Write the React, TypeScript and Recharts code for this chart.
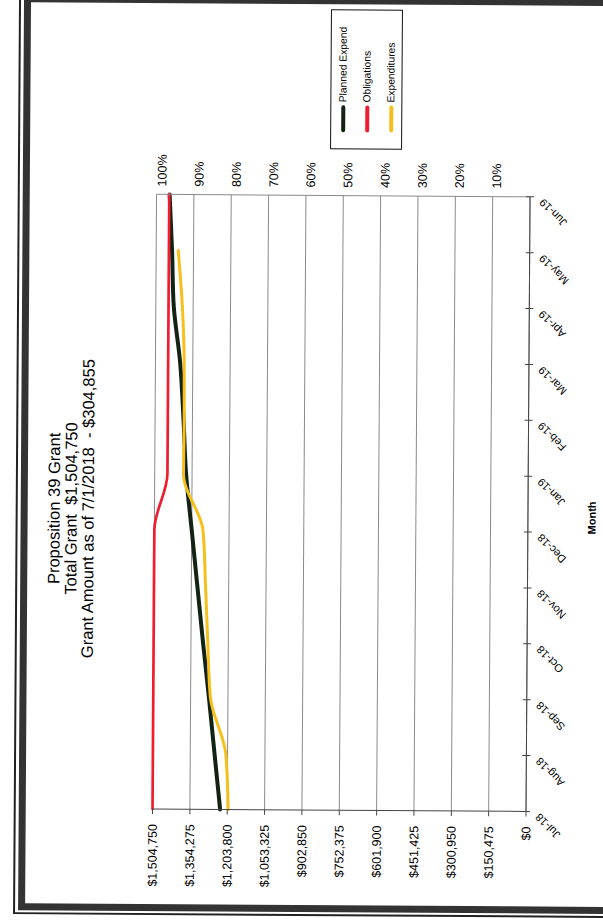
import React from 'react';
import { LineChart, Line, XAxis, YAxis, CartesianGrid, Legend } from 'recharts';

const MONTHS = ['Jul-18', 'Aug-18', 'Sep-18', 'Oct-18', 'Nov-18', 'Dec-18', 'Jan-19', 'Feb-19', 'Mar-19', 'Apr-19', 'May-19', 'Jun-19'];
const PLANNED_EXPEND = [1232400, 1256500, 1280500, 1306100, 1330200, 1354300, 1378400, 1390400, 1405400, 1432500, 1440800, 1452100];
const OBLIGATIONS = [1504750, 1504750, 1504750, 1504750, 1504750, 1504750, 1453500, 1453500, 1453500, 1453500, 1453500, 1453500];
const EXPENDITURES = [1199895, 1211300, 1274500, 1286600, 1297100, 1309100, 1388900, 1387400, 1388900, 1397900, 1416000, null];

const AMOUNT_TICKS = [0, 150475, 300950, 451425, 601900, 752375, 902850, 1053325, 1203800, 1354275, 1504750];
const PERCENT_TICKS = [0.1, 0.2, 0.3, 0.4, 0.5, 0.6, 0.7, 0.8, 0.9, 1];

const TITLE = ['Proposition 39 Grant', 'Total Grant  $1,504,750', 'Grant Amount as of 7/1/2018  - $304,855'];

const SERIES = [
  { key: 'planned', name: 'Planned Expend', color: '#132313', width: 4 },
  { key: 'obligations', name: 'Obligations', color: '#f01c30', width: 2.7 },
  { key: 'expenditures', name: 'Expenditures', color: '#f6c01c', width: 3 },
];

const FONT = '"Liberation Sans", Arial, sans-serif';

const data = MONTHS.map((month, i) => ({
  month,
  planned: PLANNED_EXPEND[i],
  obligations: OBLIGATIONS[i],
  expenditures: EXPENDITURES[i],
}));

const fmtAmount = (v: number) => '$' + v.toLocaleString('en-US');
const fmtPercent = (v: number) => `${Math.round(v * 100)}%`;

// month labels sit at -45deg with a small tick crossing the axis
function MonthTick({ x, y, payload }: any) {
  const ax = x - 1;
  const ay = y + 14;
  return (
    <g>
      <line x1={x} x2={x} y1={y - 4} y2={y + 4} stroke="#444" />
      <text
        x={ax}
        y={ay}
        textAnchor="end"
        transform={`rotate(-45 ${ax} ${ay})`}
        fontSize={11}
        fontFamily={FONT}
        fill="#000"
      >
        {payload.value}
      </text>
    </g>
  );
}

// boxed legend, rows in series order
function LegendBox() {
  const rows = [12.7, 36, 60];
  return (
    <div
      style={{
        position: 'relative',
        width: 140,
        height: 72,
        border: '1px solid #111',
        boxSizing: 'border-box',
        background: '#fff',
        fontFamily: FONT,
        fontSize: 10.3,
        color: '#000',
      }}
    >
      {SERIES.map((s, i) => (
        <div key={s.key} style={{ position: 'absolute', left: 0, top: rows[i] - 6, height: 12 }}>
          <div
            style={{
              position: 'absolute',
              left: 15.6,
              top: 4,
              width: 26.7,
              height: 4,
              borderRadius: 2,
              background: s.color,
            }}
          />
          <div style={{ position: 'absolute', left: 45.7, top: 0, lineHeight: '12px', whiteSpace: 'nowrap' }}>
            {s.name}
          </div>
        </div>
      ))}
    </div>
  );
}

function GrantChart() {
  return (
    <div style={{ position: 'relative', width: 924, height: 603, fontFamily: FONT }}>
      <LineChart width={924} height={603} data={data} margin={{ top: 154.8, right: 135.3, bottom: 24.7, left: 14 }}>
        <CartesianGrid yAxisId="amt" vertical={false} stroke="#8a8a8a" />
        <XAxis
          dataKey="month"
          interval={0}
          height={50}
          tickLine={false}
          tickSize={0}
          tickMargin={0}
          axisLine={{ stroke: '#444' }}
          tick={<MonthTick />}
        />
        <YAxis
          yAxisId="amt"
          width={100}
          domain={[0, 1504750]}
          ticks={AMOUNT_TICKS}
          interval={0}
          tickFormatter={fmtAmount}
          tickSize={5}
          tickMargin={10}
          axisLine={{ stroke: '#444' }}
          tickLine={{ stroke: '#444' }}
          tick={{ fontSize: 12.5, fill: '#000', fontFamily: FONT }}
        />
        <YAxis
          yAxisId="pct"
          orientation="right"
          width={60}
          domain={[0.00995, 1.01425]}
          allowDataOverflow
          ticks={PERCENT_TICKS}
          interval={0}
          tickFormatter={fmtPercent}
          tickLine={false}
          axisLine={{ stroke: '#8a8a8a' }}
          tick={{ fontSize: 12.5, fill: '#000', fontFamily: FONT }}
        />
        <Legend
          layout="horizontal"
          verticalAlign="middle"
          align="center"
          content={<LegendBox />}
          wrapperStyle={{ left: 775.3, top: 327.8, width: 140, height: 72 }}
        />
        {SERIES.map((s) => (
          <Line
            key={s.key}
            yAxisId="amt"
            type="monotone"
            dataKey={s.key}
            name={s.name}
            stroke={s.color}
            strokeWidth={s.width}
            strokeLinecap="round"
            dot={false}
            activeDot={false}
            isAnimationActive={false}
          />
        ))}
      </LineChart>
      <div
        style={{
          position: 'absolute',
          left: 0,
          width: 828,
          top: 45.7,
          textAlign: 'center',
          fontSize: 16.5,
          lineHeight: '17.2px',
          whiteSpace: 'pre',
          color: '#000',
        }}
      >
        {TITLE.map((t) => (
          <div key={t}>{t}</div>
        ))}
      </div>
      <div
        style={{
          position: 'absolute',
          left: 308,
          width: 200,
          top: 587.2,
          textAlign: 'center',
          fontSize: 11,
          fontWeight: 'bold',
          lineHeight: 1,
          color: '#000',
        }}
      >
        Month
      </div>
    </div>
  );
}

export default function App() {
  return (
    <div style={{ position: 'absolute', left: 0, top: 0, width: 603, height: 924, overflow: 'hidden', background: '#fff' }}>
      <div style={{ position: 'absolute', left: 0, top: 0, width: 603, height: 924, transform: 'rotate(0.375deg)', transformOrigin: '301.5px 462px' }}>
        {/* double page frame */}
        <div style={{ position: 'absolute', left: 16, top: -12, width: 700, height: 928, border: '2px solid #222', boxSizing: 'border-box' }} />
        <div style={{ position: 'absolute', left: 21, top: -3, width: 700, height: 914.5, border: '7px solid #333', boxSizing: 'border-box' }} />
        {/* landscape chart turned onto the portrait page */}
        <div style={{ position: 'absolute', left: 0, top: 924, width: 924, height: 603, transform: 'rotate(-90deg)', transformOrigin: '0 0' }}>
          <GrantChart />
        </div>
      </div>
    </div>
  );
}
